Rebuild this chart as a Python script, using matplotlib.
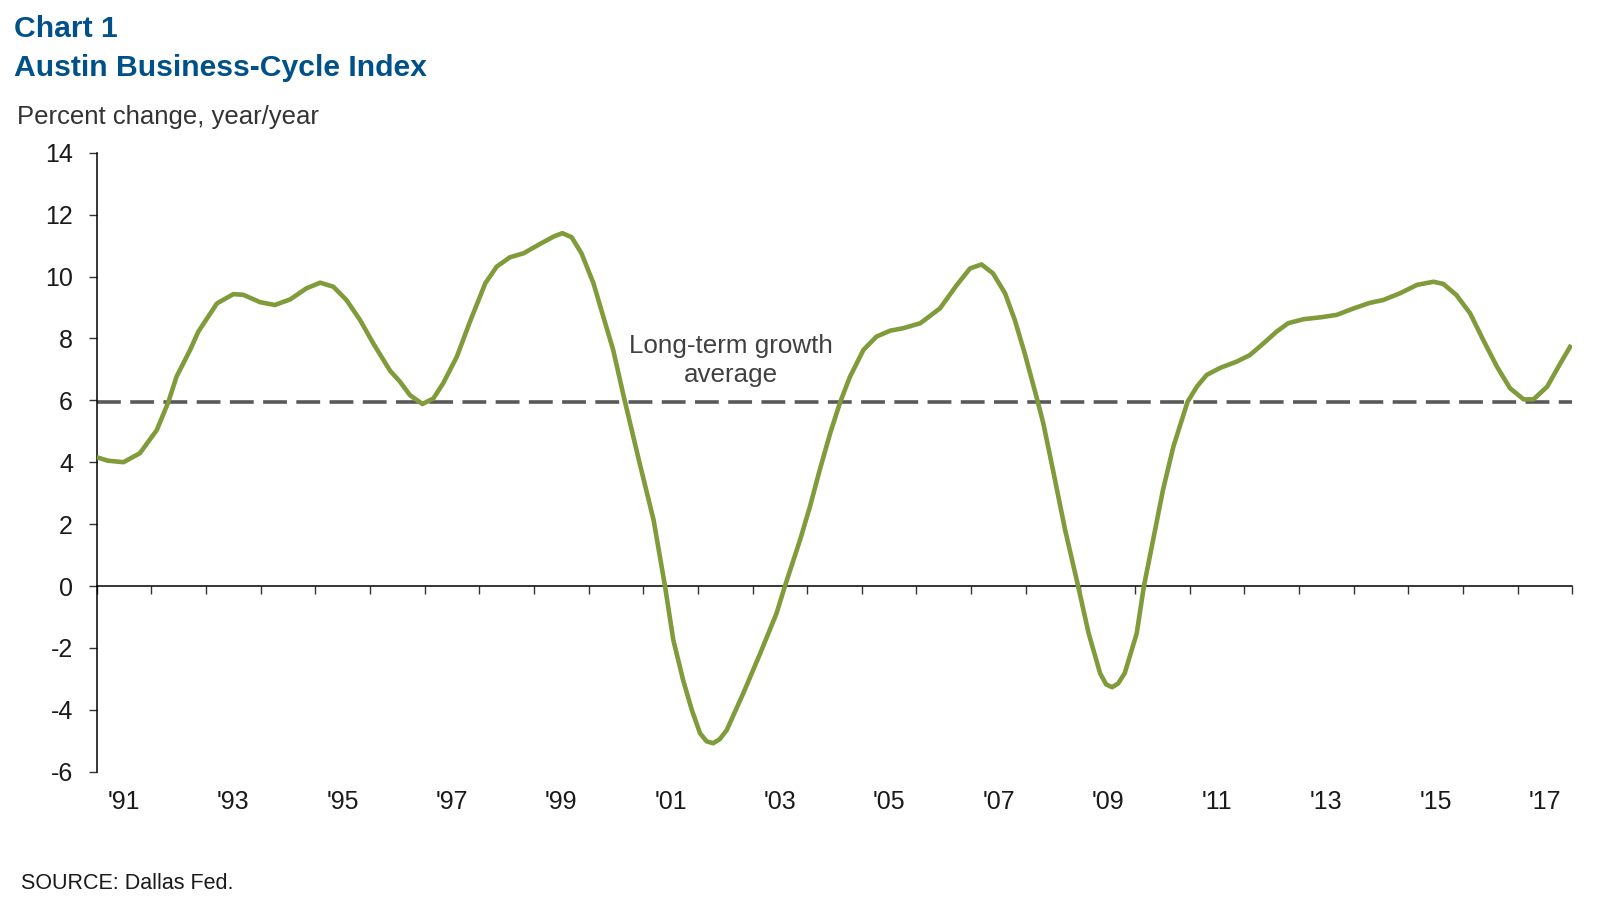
import matplotlib
matplotlib.use("Agg")
import matplotlib.pyplot as plt
import matplotlib.transforms as mtransforms

# ---- data (decimal year, percent change y/y) ----
dates = [1991.00, 1991.20, 1991.49, 1991.79, 1992.10, 1992.31, 1992.46, 1992.71, 1992.86,
         1993.20, 1993.50, 1993.68, 1993.99, 1994.26, 1994.54, 1994.84, 1995.09, 1995.33,
         1995.57, 1995.82, 1996.06, 1996.37, 1996.55, 1996.73, 1996.96, 1997.16, 1997.34,
         1997.59, 1997.83, 1998.11, 1998.32, 1998.56, 1998.81, 1999.11, 1999.36, 1999.52,
         1999.69, 1999.87, 2000.09, 2000.27, 2000.45, 2000.64, 2000.93, 2001.19, 2001.40,
         2001.55, 2001.73, 2001.89, 2002.04, 2002.16, 2002.28, 2002.40, 2002.53, 2002.83,
         2003.14, 2003.44, 2003.59, 2003.87, 2004.05, 2004.23, 2004.42, 2004.60, 2004.78,
         2005.03, 2005.27, 2005.52, 2005.76, 2006.07, 2006.43, 2006.74, 2006.98, 2007.19,
         2007.40, 2007.62, 2007.80, 2007.98, 2008.22, 2008.32, 2008.51, 2008.72, 2008.96,
         2009.15, 2009.36, 2009.47, 2009.58, 2009.69, 2009.81, 2010.03, 2010.16, 2010.33,
         2010.51, 2010.70, 2010.96, 2011.13, 2011.31, 2011.56, 2011.86, 2012.10, 2012.35,
         2012.59, 2012.80, 2013.08, 2013.39, 2013.69, 2014.00, 2014.30, 2014.54, 2014.85,
         2015.16, 2015.46, 2015.64, 2015.88, 2016.13, 2016.37, 2016.62, 2016.86, 2017.11,
         2017.29, 2017.54, 2017.78, 2017.98]
values = [4.16, 4.05, 4.00, 4.29, 5.04, 5.94, 6.76, 7.63, 8.22,
          9.13, 9.43, 9.41, 9.17, 9.08, 9.26, 9.62, 9.80, 9.67,
          9.24, 8.59, 7.84, 6.95, 6.60, 6.17, 5.88, 6.06, 6.55,
          7.41, 8.54, 9.78, 10.32, 10.62, 10.75, 11.05, 11.29, 11.40,
          11.27, 10.75, 9.78, 8.70, 7.63, 6.15, 4.00, 2.13, -0.02,
          -1.74, -3.04, -4.01, -4.76, -5.02, -5.08, -4.95, -4.65, -3.47,
          -2.18, -0.88, -0.02, 1.49, 2.56, 3.75, 4.93, 5.92, 6.75,
          7.63, 8.06, 8.25, 8.33, 8.49, 8.97, 9.73, 10.26, 10.39,
          10.10, 9.46, 8.59, 7.52, 5.95, 5.26, 3.64, 1.81, -0.02,
          -1.53, -2.82, -3.18, -3.27, -3.15, -2.82, -1.53, -0.02, 1.49,
          3.10, 4.50, 5.95, 6.44, 6.82, 7.05, 7.25, 7.46, 7.84,
          8.22, 8.49, 8.62, 8.68, 8.76, 8.97, 9.15, 9.24, 9.46,
          9.73, 9.83, 9.76, 9.40, 8.81, 7.95, 7.09, 6.39, 6.03,
          6.03, 6.44, 7.19, 7.79]
long_term_avg = 5.94
year_ticks = list(range(1991, 2019))
label_years = list(range(1991, 2018, 2))
tick_labels = ["'" + str(y)[2:] for y in label_years]
y_ticks = list(range(-6, 15, 2))

title1 = "Chart 1"
title2 = "Austin Business-Cycle Index"
ylabel = "Percent change, year/year"
source = "SOURCE: Dallas Fed."
annot1 = "Long-term growth"
annot2 = "average"

plt.rcParams['font.family'] = ['Liberation Sans', 'DejaVu Sans']

W, H = 1614, 914
fig = plt.figure(figsize=(W / 100, H / 100), dpi=100)
ax_left, ax_right, ax_top, ax_bot = 96.7, 1572.3, 152.7, 771.7
ax = fig.add_axes([ax_left / W, 1 - ax_bot / H, (ax_right - ax_left) / W, (ax_bot - ax_top) / H])

green = '#7f9b3a'
ax.plot(dates, values, color=green, lw=3.3, solid_capstyle='butt',
        solid_joinstyle='round', zorder=3)
ax.axhline(long_term_avg, color='#595959', lw=2.6, dashes=(6.6, 2.6), zorder=2)

ax.set_xlim(1991, 2018)
ax.set_ylim(-6, 14)

for s in ['top', 'right']:
    ax.spines[s].set_visible(False)
ax.spines['bottom'].set_position(('data', 0))
ax.spines['bottom'].set_color('#000000')
ax.spines['left'].set_color('#000000')
ax.spines['bottom'].set_linewidth(1.1)
ax.spines['left'].set_linewidth(1.1)

ax.set_xticks(year_ticks)
ax.tick_params(axis='x', direction='out', length=6, width=1.0, color='#333333', labelbottom=False)
ax.set_yticks(y_ticks)
ax.set_yticklabels([str(v) for v in y_ticks])
ax.tick_params(axis='y', direction='out', length=6, width=1.0, color='#333333',
               labelsize=18, labelcolor='#1a1a1a', pad=11)

trans = mtransforms.blended_transform_factory(ax.transData, ax.transAxes)
yfrac = (ax_bot - 801.7) / (ax_bot - ax_top)
for y, lab in zip(label_years, tick_labels):
    ax.text(y + 0.5, yfrac, lab, transform=trans, ha='center', va='center',
            fontsize=18, color='#1a1a1a')

# annotation
ax.text(2002.61, 7.52, annot1, ha='center', va='baseline', fontsize=18.7, color='#404040')
ax.text(2002.61, 6.60, annot2, ha='center', va='baseline', fontsize=18.7, color='#404040')

blue = '#00508a'
fig.text(14 / W, 1 - 37.3 / H, title1, fontsize=21.7, fontweight='bold', color=blue, va='baseline', ha='left')
fig.text(14 / W, 1 - 76 / H, title2, fontsize=21.7, fontweight='bold', color=blue, va='baseline', ha='left')
fig.text(16.7 / W, 1 - 124 / H, ylabel, fontsize=18.5, color='#333333', va='baseline', ha='left')
fig.text(20.6 / W, 1 - 889 / H, source, fontsize=15.5, color='#1a1a1a', va='baseline', ha='left')

fig.savefig('out.png', dpi=100, facecolor='white')
